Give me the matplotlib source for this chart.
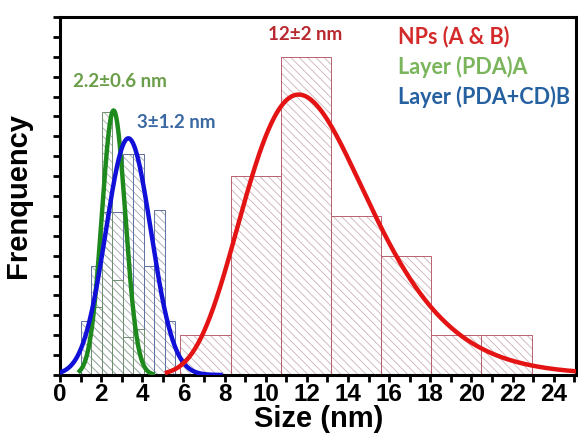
import numpy as np
import matplotlib
matplotlib.use('Agg')
import matplotlib.pyplot as plt

plt.rcParams['hatch.linewidth'] = 0.6

# ── Data ──────────────────────────────────────────────────────────────────────
# NPs (A & B) histogram
np_edges = [5.85, 8.29, 10.73, 13.17, 15.61, 18.05, 20.49, 22.93]
np_counts = [2, 10, 16, 8, 6, 2, 2]

# Layer histograms (shared bins)
layer_edges = [1.0, 1.51, 2.02, 2.53, 3.04, 3.55, 4.06, 4.57, 5.08, 5.59]
cd_counts = [2.7, 5.5, 8.2, 8.2, 11.1, 11.1, 5.5, 8.3, 2.7]    # Layer (PDA+CD)B
pda_counts = [0, 3.4, 13.2, 4.8, 1.9, 2.3, 0, 0, 0]           # Layer (PDA)A

# fitted curves: (peak position, width, peak height, x-range)
np_fit = dict(mode=11.6, s=0.262, peak=14.1, xmin=5.2, xmax=25.1)   # log-normal
pda_fit = dict(mu=2.6, sigma=0.57, peak=13.3, xmin=0.95, xmax=4.5)
cd_fit = dict(mu=3.32, sigma=1.1, peak=11.9, xmin=0.0, xmax=7.8)

series_labels = ['NPs (A & B)', 'Layer (PDA)A', 'Layer (PDA+CD)B']
series_colors = ['#d42a2a', '#7ab55c', '#2560a0']
size_labels = ['12±2 nm', '2.2±0.6 nm', '3±1.2 nm']


def hatched_bars(ax, edges, heights, hatch_color, edge_color):
    left = np.array(edges[:-1])
    width = np.diff(edges)
    ax.bar(left, heights, width=width, align='edge', facecolor='none',
           edgecolor=hatch_color, linewidth=0, hatch='\\\\\\\\')
    ax.bar(left, heights, width=width, align='edge', facecolor='none',
           edgecolor=edge_color, linewidth=0.7)


fig = plt.figure(figsize=(5.78, 4.48), dpi=100)
ax = fig.add_axes([0.104, 0.163, 0.893, 0.799])

hatched_bars(ax, np_edges, np_counts, '#cdb2b8', '#b86070')
hatched_bars(ax, layer_edges, cd_counts, '#a0a8b4', '#6070a0')
hatched_bars(ax, layer_edges, pda_counts, '#a0b0a0', '#709070')

# fitted curves
x = np.linspace(pda_fit['xmin'], pda_fit['xmax'], 300)
ax.plot(x, pda_fit['peak'] * np.exp(-(x - pda_fit['mu'])**2 / (2 * pda_fit['sigma']**2)),
        color='#1e8a1e', lw=3.2, zorder=4)
x = np.linspace(cd_fit['xmin'], cd_fit['xmax'], 300)
ax.plot(x, cd_fit['peak'] * np.exp(-(x - cd_fit['mu'])**2 / (2 * cd_fit['sigma']**2)),
        color='#1010d8', lw=3.2, zorder=4)
x = np.linspace(np_fit['xmin'], np_fit['xmax'], 400)
ax.plot(x, np_fit['peak'] * np.exp(-np.log(x / np_fit['mode'])**2 / (2 * np_fit['s']**2)),
        color='#e41414', lw=3.2, zorder=4)

# annotations
txt = dict(family=['Lato', 'DejaVu Sans'], fontweight='bold', ha='center', va='center')
ax.text(11.9, 17.1, size_labels[0], color='#b8282f', fontsize=13.5, **txt)
ax.text(2.92, 14.75, size_labels[1], color='#6a9e48', fontsize=13.5, **txt)
ax.text(5.67, 12.7, size_labels[2], color='#3a68a2', fontsize=13.5, **txt)

leg = dict(family=['Lato', 'DejaVu Sans'], fontweight='bold', ha='left', va='center', fontsize=15.5)
for i, (lab, col) in enumerate(zip(series_labels, series_colors)):
    ax.text(16.42, 17.0 - 1.5 * i, lab, color=col, **leg)

ax.set_xlim(0, 25.1)
ax.set_ylim(0, 18)
ax.set_xticks(np.arange(0, 25, 2))
ax.set_xticks(np.arange(0, 26, 1), minor=True)
ax.set_yticks(np.arange(0, 19, 1))
ax.set_yticklabels([])
ax.tick_params(axis='both', which='both', direction='out', length=5, width=2)
ax.tick_params(axis='x', labelsize=17.5, pad=1)
for lab in ax.get_xticklabels():
    lab.set_fontweight('bold')
    lab.set_family('Liberation Sans')
for sp in ax.spines.values():
    sp.set_linewidth(2.2)

ax.set_xlabel('Size (nm)', fontsize=21, fontweight='bold', family='Liberation Sans', labelpad=-1)
ax.set_ylabel('Frenquency', fontsize=21, fontweight='bold', family='Liberation Sans', labelpad=12)

plt.savefig('out.png', dpi=100)
plt.close()
